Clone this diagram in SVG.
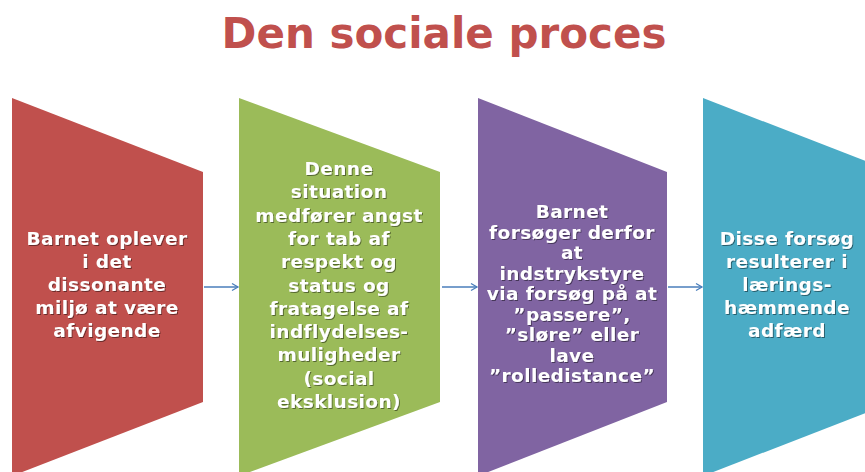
<svg xmlns="http://www.w3.org/2000/svg" width="865" height="472" viewBox="0 0 865 472">
<style>
.t{font-family:"DejaVu Sans","Liberation Sans",sans-serif;font-weight:bold;font-size:18.5px;letter-spacing:0.4px;fill:#ffffff;text-anchor:middle;filter:url(#sh)}
.title{font-family:"DejaVu Sans","Liberation Sans",sans-serif;font-weight:bold;font-size:42px;fill:#c0504d;text-anchor:middle}
.c{stroke:#4a7ebb;stroke-width:1.3;fill:none}
</style>
<defs>
<filter id="sh" x="-10%" y="-20%" width="120%" height="150%">
<feDropShadow dx="1" dy="1" stdDeviation="0.6" flood-color="#000" flood-opacity="0.45"/>
</filter>
<marker id="ah" markerWidth="10" markerHeight="10" refX="8" refY="5" orient="auto" markerUnits="userSpaceOnUse">
<path d="M2,1.5 L8,5 L2,8.5" fill="none" stroke="#4a7ebb" stroke-width="1.3"/>
</marker>
</defs>
<rect width="865" height="472" fill="#ffffff"/>
<text class="title" x="444" y="48">Den sociale proces</text>
<g id="n1">
<path d="M12,98 L203,172 L203,402 L12,476 Z" fill="#c0504d"/>
<text class="t"><tspan x="107" y="245">Barnet oplever</tspan><tspan x="107" y="268">i det</tspan><tspan x="107" y="291">dissonante</tspan><tspan x="107" y="314">miljø at være</tspan><tspan x="107" y="337">afvigende</tspan></text>
</g>
<g id="n2">
<path d="M239,98 L440,172 L440,402 L239,476 Z" fill="#9bbb59"/>
<text class="t"><tspan x="339" y="175">Denne</tspan><tspan x="339" y="198.3">situation</tspan><tspan x="339" y="221.6">medfører angst</tspan><tspan x="339" y="244.9">for tab af</tspan><tspan x="339" y="268.2">respekt og</tspan><tspan x="339" y="291.5">status og</tspan><tspan x="339" y="314.8">fratagelse af</tspan><tspan x="339" y="338.1">indflydelses-</tspan><tspan x="339" y="361.4">muligheder</tspan><tspan x="339" y="384.7">(social</tspan><tspan x="339" y="408">eksklusion)</tspan></text>
</g>
<g id="n3">
<path d="M478,98 L667,172 L667,402 L478,476 Z" fill="#8064a2"/>
<text class="t"><tspan x="572" y="218">Barnet</tspan><tspan x="572" y="238.5">forsøger derfor</tspan><tspan x="572" y="259">at</tspan><tspan x="572" y="279.5">indstrykstyre</tspan><tspan x="572" y="300">via forsøg på at</tspan><tspan x="572" y="320.5">”passere”,</tspan><tspan x="572" y="341">”sløre” eller</tspan><tspan x="572" y="361.5">lave</tspan><tspan x="572" y="382">”rolledistance”</tspan></text>
</g>
<g id="n4">
<path d="M703,98 L894,172 L894,402 L703,476 Z" fill="#4bacc6"/>
<text class="t"><tspan x="787" y="245">Disse forsøg</tspan><tspan x="787" y="268">resulterer i</tspan><tspan x="787" y="291">lærings-</tspan><tspan x="787" y="314">hæmmende</tspan><tspan x="787" y="337">adfærd</tspan></text>
</g>
<g id="connectors">
<line class="c" x1="204" y1="287" x2="238" y2="287" marker-end="url(#ah)"/>
<line class="c" x1="442" y1="287" x2="477" y2="287" marker-end="url(#ah)"/>
<line class="c" x1="668" y1="287" x2="702" y2="287" marker-end="url(#ah)"/>
</g>
</svg>
